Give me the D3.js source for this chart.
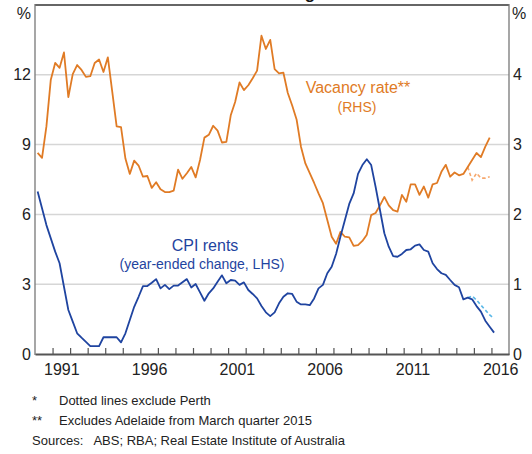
<!DOCTYPE html>
<html>
<head>
<meta charset="utf-8">
<script src="https://cdnjs.cloudflare.com/ajax/libs/d3/7.8.5/d3.min.js"></script>
<style>
  body { margin: 0; background: #fff; }
  svg text { font-family: Arial, "Liberation Sans", sans-serif; }
</style>
</head>
<body>
<svg width="532" height="454"></svg>
<script>
// quarterly data, March quarter 1990 onwards
var startYear = 1990;

// rental vacancy rate, % (RHS)
var vacancy = [2.88, 2.81, 3.26, 3.93, 4.17, 4.10, 4.32, 3.68, 4.01, 4.14, 4.07, 3.97, 3.98, 4.17, 4.22, 4.04,
  4.25, 3.76, 3.26, 3.25, 2.80, 2.58, 2.77, 2.70, 2.54, 2.55, 2.38, 2.46, 2.36, 2.32, 2.32, 2.34,
  2.64, 2.51, 2.59, 2.68, 2.53, 2.78, 3.10, 3.14, 3.27, 3.20, 3.03, 3.04, 3.42, 3.61, 3.89, 3.78,
  3.85, 3.95, 4.06, 4.56, 4.37, 4.50, 4.08, 4.02, 4.03, 3.74, 3.56, 3.36, 2.97, 2.73, 2.59, 2.45,
  2.30, 2.16, 1.92, 1.68, 1.58, 1.75, 1.68, 1.67, 1.55, 1.56, 1.62, 1.71, 1.99, 2.02, 2.13, 2.25,
  2.13, 2.06, 2.04, 2.28, 2.18, 2.43, 2.43, 2.28, 2.40, 2.24, 2.43, 2.45, 2.61, 2.71, 2.54, 2.60,
  2.56, 2.58, 2.68, 2.78, 2.88, 2.82, 2.97, 3.10];
// vacancy rate excluding Perth, from quarter index 98
var vacancyExPerthStart = 98;
var vacancyExPerth = [2.68, 2.49, 2.59, 2.52, 2.52, 2.54];

// CPI rents, year-ended change, % (LHS)
var cpiRents = [6.98, 6.26, 5.54, 4.97, 4.40, 3.90, 2.89, 1.89, 1.39, 0.89, 0.70, 0.52, 0.34, 0.34, 0.34, 0.72,
  0.72, 0.72, 0.72, 0.50, 0.89, 1.46, 2.03, 2.46, 2.92, 2.92, 3.06, 3.22, 2.82, 2.97, 2.79, 2.94,
  2.94, 3.08, 3.22, 2.86, 3.01, 2.65, 2.29, 2.61, 2.82, 3.11, 3.38, 3.04, 3.18, 3.15, 2.97, 3.08,
  2.75, 2.58, 2.39, 2.06, 1.79, 1.63, 1.79, 2.18, 2.46, 2.61, 2.58, 2.25, 2.13, 2.13, 2.10, 2.39,
  2.82, 2.97, 3.47, 3.75, 4.30, 5.05, 5.75, 6.45, 6.90, 7.74, 8.12, 8.37, 8.12, 7.19, 6.19, 5.19,
  4.61, 4.21, 4.18, 4.30, 4.47, 4.50, 4.66, 4.71, 4.47, 4.40, 3.90, 3.65, 3.47, 3.40, 3.18, 2.97,
  2.87, 2.35, 2.42, 2.35, 2.06, 1.82, 1.43, 1.17, 0.92];
var cpiExPerthStart = 98;
var cpiExPerth = [2.42, 2.49, 2.32, 2.10, 1.89, 1.68, 1.53];

var leftTicks = [0, 3, 6, 9, 12];
var rightTicks = [0, 1, 2, 3, 4];
var yearLabels = [1991, 1996, 2001, 2006, 2011, 2016];
var footnotes = [
  ["*", "Dotted lines exclude Perth"],
  ["**", "Excludes Adelaide from March quarter 2015"]
];
var sources = "Sources:   ABS; RBA; Real Estate Institute of Australia";

var svg = d3.select("svg"),
    pLeft = 35, pRight = 509, pTop = 5, pBottom = 354;

var orange = "#e07b25", blue = "#1f44a0", lightBlue = "#5ab8e8", lightOrange = "#f6a86e";

var x = d3.scaleLinear().domain([1990, 2017]).range([pLeft, pRight]);
var yL = d3.scaleLinear().domain([0, 15]).range([pBottom, pTop]);
var yR = d3.scaleLinear().domain([0, 5]).range([pBottom, pTop]);

function qDate(i) { return startYear + (i + 0.6) / 4; }

// title (mostly off the top of the picture)
svg.append("text")
    .attr("x", 256).attr("y", -1.5)
    .attr("text-anchor", "middle")
    .style("font-weight", "bold").style("font-size", "17px").attr("fill", "#111")
    .text("Rental Housing*");

// gridlines
svg.append("g").selectAll("line")
    .data(leftTicks.filter(function (d) { return d > 0; }))
    .enter().append("line")
    .attr("x1", pLeft).attr("x2", pRight)
    .attr("y1", function (d) { return yL(d); })
    .attr("y2", function (d) { return yL(d); })
    .attr("stroke", "#d6d6d6").attr("stroke-width", 1.5);

// y axis labels
var gl = svg.append("g").attr("transform", "translate(" + pLeft + ",0)")
    .call(d3.axisLeft(yL).tickValues(leftTicks).tickSize(0).tickPadding(4).tickFormat(d3.format("d")));
gl.select(".domain").remove();
gl.selectAll("text").style("font-size", "16px").attr("fill", "#222");

var gr = svg.append("g").attr("transform", "translate(" + pRight + ",0)")
    .call(d3.axisRight(yR).tickValues(rightTicks).tickSize(0).tickPadding(4).tickFormat(d3.format("d")));
gr.select(".domain").remove();
gr.selectAll("text").style("font-size", "16px").attr("fill", "#222");

// % units
svg.append("text").attr("x", 31).attr("y", 19).attr("text-anchor", "end")
    .style("font-size", "16px").attr("fill", "#222").text("%");
svg.append("text").attr("x", 512).attr("y", 19)
    .style("font-size", "16px").attr("fill", "#222").text("%");

// lines
var lineL = d3.line().x(function (d) { return x(d[0]); }).y(function (d) { return yL(d[1]); });
var lineR = d3.line().x(function (d) { return x(d[0]); }).y(function (d) { return yR(d[1]); });

function pts(arr, offset) {
  return arr.map(function (v, i) { return [qDate(i + offset), v]; });
}

svg.append("path").datum(pts(vacancyExPerth, vacancyExPerthStart))
    .attr("d", lineR).attr("fill", "none").attr("stroke", lightOrange)
    .attr("stroke-width", 1.6).attr("stroke-dasharray", "3.5,2.5");
svg.append("path").datum(pts(cpiExPerth, cpiExPerthStart))
    .attr("d", lineL).attr("fill", "none").attr("stroke", lightBlue)
    .attr("stroke-width", 1.6).attr("stroke-dasharray", "3.5,2.5");

svg.append("path").datum(pts(vacancy, 0))
    .attr("d", lineR).attr("fill", "none").attr("stroke", orange)
    .attr("stroke-width", 1.8).attr("stroke-linejoin", "round");
svg.append("path").datum(pts(cpiRents, 0))
    .attr("d", lineL).attr("fill", "none").attr("stroke", blue)
    .attr("stroke-width", 1.8).attr("stroke-linejoin", "round");

// frame
svg.append("line").attr("x1", pLeft).attr("x2", pRight).attr("y1", pTop).attr("y2", pTop)
    .attr("stroke", "#666").attr("stroke-width", 2);
[pLeft, pRight].forEach(function (xx) {
  svg.append("line").attr("x1", xx).attr("x2", xx).attr("y1", pTop - 1).attr("y2", pBottom + 1)
      .attr("stroke", "#777").attr("stroke-width", 1.3);
});

// x axis: ticks at each year, labels mid-year
var gx = svg.append("g").attr("transform", "translate(0," + pBottom + ")")
    .call(d3.axisBottom(x).tickValues(d3.range(1991, 2017)).tickSizeInner(-6).tickSizeOuter(0).tickFormat(""));
gx.select(".domain").attr("stroke", "#555").attr("stroke-width", 2);
gx.selectAll(".tick line").attr("stroke", "#555").attr("stroke-width", 1.2);

var gxl = svg.append("g").attr("transform", "translate(0," + pBottom + ")")
    .call(d3.axisBottom(x).tickValues(yearLabels.map(function (d) { return d + 0.5; }))
      .tickSize(0).tickPadding(10).tickFormat(function (d) { return Math.floor(d); }));
gxl.select(".domain").remove();
gxl.selectAll("text").style("font-size", "16px").attr("fill", "#222");

// annotations
svg.append("text").attr("x", 358).attr("y", 93).attr("text-anchor", "middle")
    .style("font-size", "16px").attr("fill", orange).text("Vacancy rate**");
svg.append("text").attr("x", 357).attr("y", 112).attr("text-anchor", "middle")
    .style("font-size", "14px").attr("fill", orange).text("(RHS)");
svg.append("text").attr("x", 205).attr("y", 251).attr("text-anchor", "middle")
    .style("font-size", "16px").attr("fill", blue).text("CPI rents");
svg.append("text").attr("x", 202).attr("y", 269).attr("text-anchor", "middle")
    .style("font-size", "14px").attr("fill", blue).text("(year-ended change, LHS)");

// footnotes
footnotes.forEach(function (f, i) {
  var yy = 405 + i * 20;
  svg.append("text").attr("x", 32).attr("y", yy).style("font-size", "13px").attr("fill", "#222").text(f[0]);
  svg.append("text").attr("x", 59).attr("y", yy).style("font-size", "13px").attr("fill", "#222").text(f[1]);
});
svg.append("text").attr("x", 32).attr("y", 445).style("font-size", "13px").attr("fill", "#222")
    .style("white-space", "pre").text(sources);
</script>
</body>
</html>
